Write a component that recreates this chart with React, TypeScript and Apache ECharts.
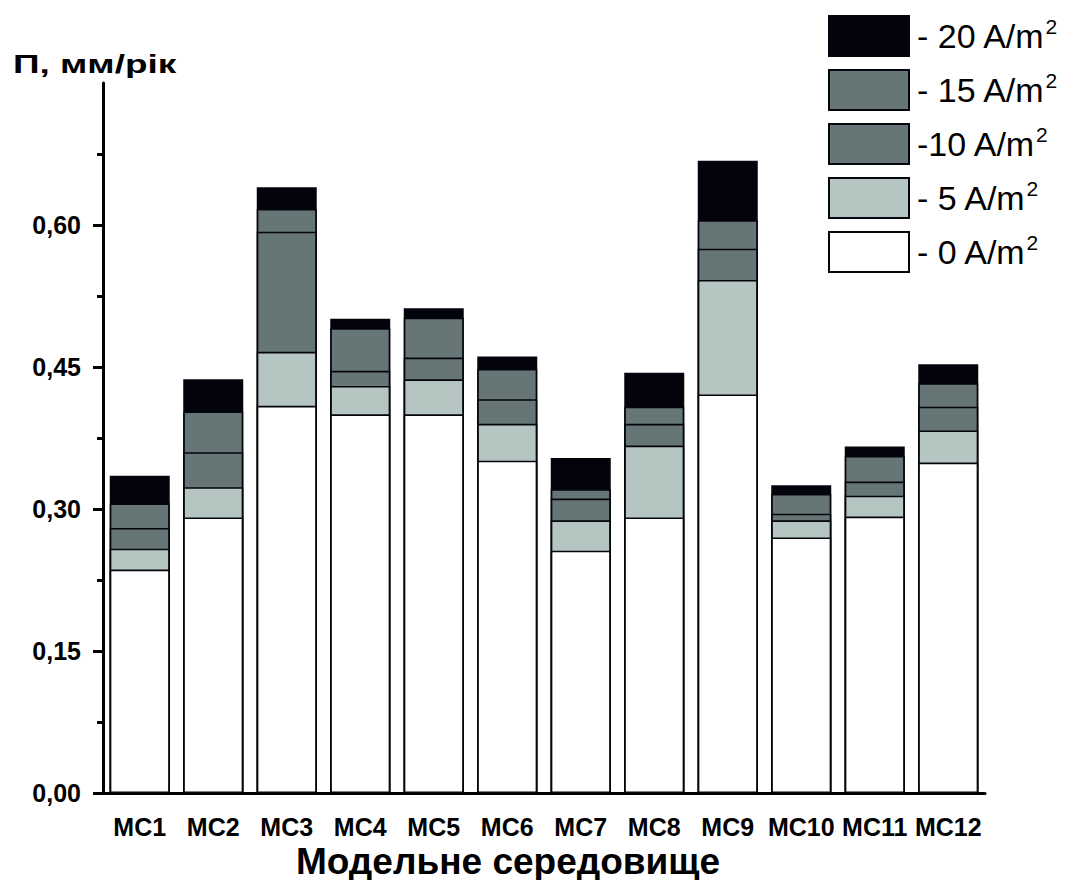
import React, { useEffect, useRef } from 'react';
import * as echarts from 'echarts';

const categories = ['МС1', 'МС2', 'МС3', 'МС4', 'МС5', 'МС6', 'МС7', 'МС8', 'МС9', 'МС10', 'МС11', 'МС12'];
const rate0 = [0.236, 0.291, 0.409, 0.400, 0.400, 0.351, 0.256, 0.291, 0.421, 0.270, 0.292, 0.349];
const rate5 = [0.258, 0.323, 0.466, 0.430, 0.437, 0.390, 0.288, 0.367, 0.542, 0.288, 0.314, 0.383];
const rate10 = [0.280, 0.360, 0.593, 0.446, 0.460, 0.416, 0.311, 0.390, 0.575, 0.295, 0.329, 0.408];
const rate15 = [0.306, 0.403, 0.617, 0.491, 0.502, 0.448, 0.321, 0.408, 0.605, 0.316, 0.356, 0.433];
const rate20 = [0.335, 0.437, 0.640, 0.501, 0.512, 0.461, 0.354, 0.444, 0.668, 0.325, 0.366, 0.453];
const yTicks = [0, 0.15, 0.3, 0.45, 0.6];
const seriesNames = ['- 20 A/m2', '- 15 A/m2', '-10 A/m2', '- 5 A/m2', '- 0 A/m2'];
const seriesData = [rate20, rate15, rate10, rate5, rate0];
const seriesColors = ['#03030b', '#667676', '#667676', '#b4c5c2', '#ffffff'];

const FONT = '"Liberation Sans", Arial, sans-serif';

export default function App() {
  const ref = useRef<HTMLDivElement>(null);
  useEffect(() => {
    if (!ref.current) return;
    const chart = echarts.init(ref.current, null, { renderer: 'svg' });
    const series = seriesNames.map((name, i) => ({
      name,
      type: 'bar',
      xAxisIndex: 0,
      data: seriesData[i],
      barWidth: 60,
      barGap: '-100%',
      itemStyle: { color: seriesColors[i], borderColor: '#05050d', borderWidth: 1.6 },
    }));
    chart.setOption({
      animation: false,
      backgroundColor: '#ffffff',
      textStyle: { fontFamily: FONT },
      grid: { left: 103, right: 89, top: 83, bottom: 87, containLabel: false },
      legend: {
        orient: 'vertical',
        left: 828,
        top: 15,
        padding: 0,
        itemWidth: 80,
        itemHeight: 40,
        itemGap: 12,
        icon: 'rect',
        formatter: (name: string) => name.replace('m2', 'm{sup|2}'),
        textStyle: {
          fontSize: 34,
          lineHeight: 40,
          color: '#000',
          fontFamily: FONT,
          padding: [0, 0, 0, 3],
          rich: { sup: { fontSize: 21, lineHeight: 11, color: '#000', fontFamily: FONT, verticalAlign: 'top' } },
        },
      },
      xAxis: [
        {
          type: 'category',
          data: categories,
          position: 'bottom',
          axisLine: { lineStyle: { color: '#000', width: 3 } },
          axisTick: { alignWithLabel: true, length: 13, lineStyle: { color: '#000', width: 3 } },
          axisLabel: { fontSize: 25, fontWeight: 'bold', color: '#000', margin: 21, fontFamily: FONT, interval: 0 },
        },
        {
          type: 'category',
          data: categories,
          position: 'bottom',
          axisLine: { show: false },
          axisTick: { length: 7, lineStyle: { color: '#000', width: 3 } },
          axisLabel: { show: false },
        },
      ],
      yAxis: {
        type: 'value',
        min: 0,
        max: 0.75,
        interval: 0.15,
        axisLine: { show: true, lineStyle: { color: '#000', width: 3 } },
        axisTick: { show: true, length: 10, lineStyle: { color: '#000', width: 3 }, customValues: yTicks },
        minorTick: { show: true, splitNumber: 2, length: 6, lineStyle: { color: '#000', width: 3 } },
        splitLine: { show: false },
        axisLabel: {
          customValues: yTicks,
          formatter: (v: number) => v.toFixed(2).replace('.', ','),
          fontSize: 25,
          fontWeight: 'bold',
          color: '#000',
          margin: 22,
          fontFamily: FONT,
        },
      },
      graphic: [
        {
          type: 'text',
          x: 13,
          y: 64,
          scaleX: 1.42,
          style: { text: 'П, мм/рік', font: `bold 26px ${FONT}`, fill: '#000', textVerticalAlign: 'middle' },
        },
        {
          type: 'text',
          x: 508,
          y: 861,
          style: {
            text: 'Модельне середовище',
            font: `bold 37px ${FONT}`,
            fill: '#000',
            textAlign: 'center',
            textVerticalAlign: 'middle',
          },
        },
      ],
      series,
    });
    return () => chart.dispose();
  }, []);
  return <div ref={ref} style={{ position: 'fixed', left: 0, top: 0, width: 1074, height: 880 }} />;
}
